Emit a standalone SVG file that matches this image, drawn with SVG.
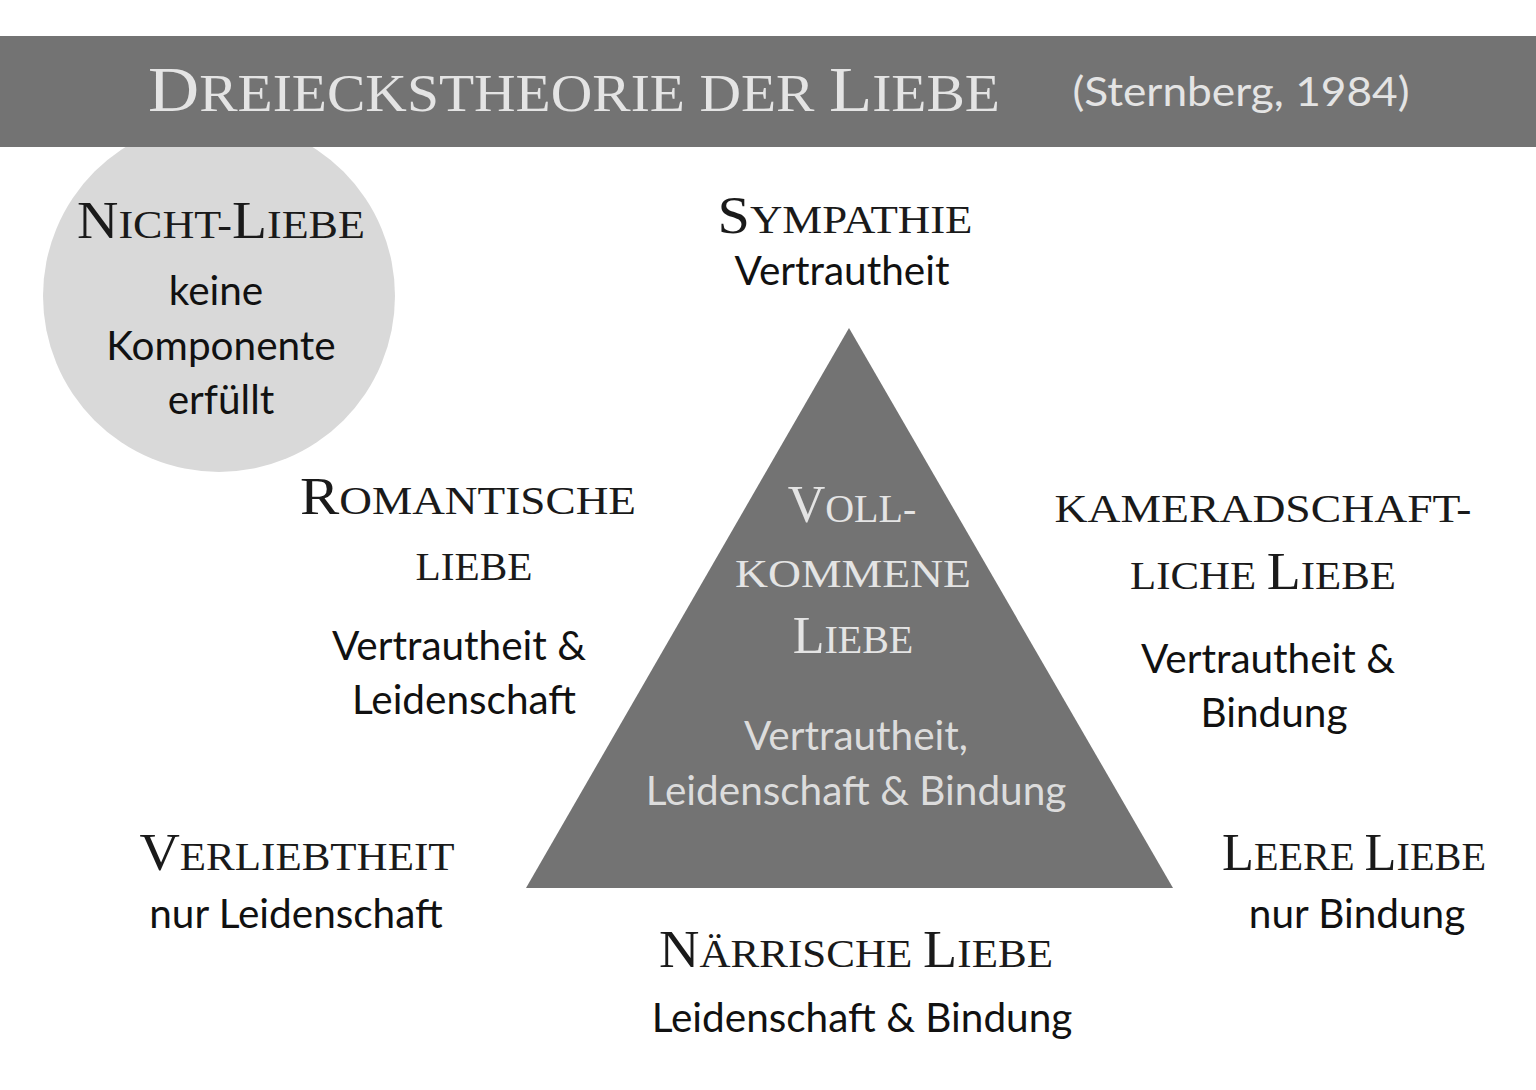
<svg xmlns="http://www.w3.org/2000/svg" width="1536" height="1090" viewBox="0 0 1536 1090">
<style>
.h{font-family:"Liberation Serif","Times New Roman",serif;fill:#1a1a1a;text-anchor:middle}
.hl{fill:#e4e4e4}
.c{font-size:52px}
.s{font-size:40px}
.b{font-family:Lato,"Liberation Sans",sans-serif;font-size:40.5px;fill:#111;text-anchor:middle}
.bl{fill:#dcdcdc}
</style>
<rect width="1536" height="1090" fill="#ffffff"/>
<g id="nicht-liebe">
<circle cx="219" cy="296" r="176" fill="#d9d9d9"/>
<text class="h" x="221" y="238" textLength="288" lengthAdjust="spacingAndGlyphs"><tspan class="c">N</tspan><tspan class="s">ICHT-</tspan><tspan class="c">L</tspan><tspan class="s">IEBE</tspan></text>
<text class="b" x="216" y="305">keine</text>
<text class="b" x="221" y="360">Komponente</text>
<text class="b" x="221" y="414">erfüllt</text>
</g>
<g id="title">
<rect x="0" y="36" width="1536" height="111" fill="#737373"/>
<text class="h hl" x="574" y="111" textLength="852" lengthAdjust="spacingAndGlyphs"><tspan font-size="64">D</tspan><tspan font-size="52">REIECKSTHEORIE DER </tspan><tspan font-size="64">L</tspan><tspan font-size="52">IEBE</tspan></text>
<text x="1241" y="106" font-family="Lato,'Liberation Sans',sans-serif" font-size="40" fill="#e4e4e4" text-anchor="middle" textLength="337" lengthAdjust="spacingAndGlyphs">(Sternberg, 1984)</text>
</g>
<g id="vollkommene-liebe">
<polygon points="849,328 526,888 1173,888" fill="#737373"/>
<text class="h hl" x="852" y="522"><tspan class="c">V</tspan><tspan class="s">OLL-</tspan></text>
<text class="h hl s" x="853" y="587" textLength="236" lengthAdjust="spacingAndGlyphs">KOMMENE</text>
<text class="h hl" x="853" y="653"><tspan class="c">L</tspan><tspan class="s">IEBE</tspan></text>
<text class="b bl" x="856" y="750">Vertrautheit,</text>
<text class="b bl" x="856" y="805">Leidenschaft &amp; Bindung</text>
</g>
<g id="sympathie">
<text class="h" x="845" y="233" textLength="255" lengthAdjust="spacingAndGlyphs"><tspan class="c">S</tspan><tspan class="s">YMPATHIE</tspan></text>
<text class="b" x="842" y="285">Vertrautheit</text>
</g>
<g id="romantische-liebe">
<text class="h" x="468" y="514" textLength="336" lengthAdjust="spacingAndGlyphs"><tspan class="c">R</tspan><tspan class="s">OMANTISCHE</tspan></text>
<text class="h s" x="474" y="580" textLength="117" lengthAdjust="spacingAndGlyphs">LIEBE</text>
<text class="b" x="459" y="660">Vertrautheit &amp;</text>
<text class="b" x="464" y="714">Leidenschaft</text>
</g>
<g id="kameradschaftliche-liebe">
<text class="h s" x="1263" y="522" textLength="417" lengthAdjust="spacingAndGlyphs">KAMERADSCHAFT-</text>
<text class="h" x="1263" y="589" textLength="266" lengthAdjust="spacingAndGlyphs"><tspan class="s">LICHE </tspan><tspan class="c">L</tspan><tspan class="s">IEBE</tspan></text>
<text class="b" x="1268" y="673">Vertrautheit &amp;</text>
<text class="b" x="1274" y="727">Bindung</text>
</g>
<g id="verliebtheit">
<text class="h" x="297" y="870" textLength="315" lengthAdjust="spacingAndGlyphs"><tspan class="c">V</tspan><tspan class="s">ERLIEBTHEIT</tspan></text>
<text class="b" x="296" y="928">nur Leidenschaft</text>
</g>
<g id="leere-liebe">
<text class="h" x="1354" y="870" textLength="264" lengthAdjust="spacingAndGlyphs"><tspan class="c">L</tspan><tspan class="s">EERE </tspan><tspan class="c">L</tspan><tspan class="s">IEBE</tspan></text>
<text class="b" x="1357" y="928">nur Bindung</text>
</g>
<g id="naerrische-liebe">
<text class="h" x="856" y="967" textLength="394" lengthAdjust="spacingAndGlyphs"><tspan class="c">N</tspan><tspan class="s">ÄRRISCHE </tspan><tspan class="c">L</tspan><tspan class="s">IEBE</tspan></text>
<text class="b" x="862" y="1032">Leidenschaft &amp; Bindung</text>
</g>
<g id="connectors"/>
</svg>
